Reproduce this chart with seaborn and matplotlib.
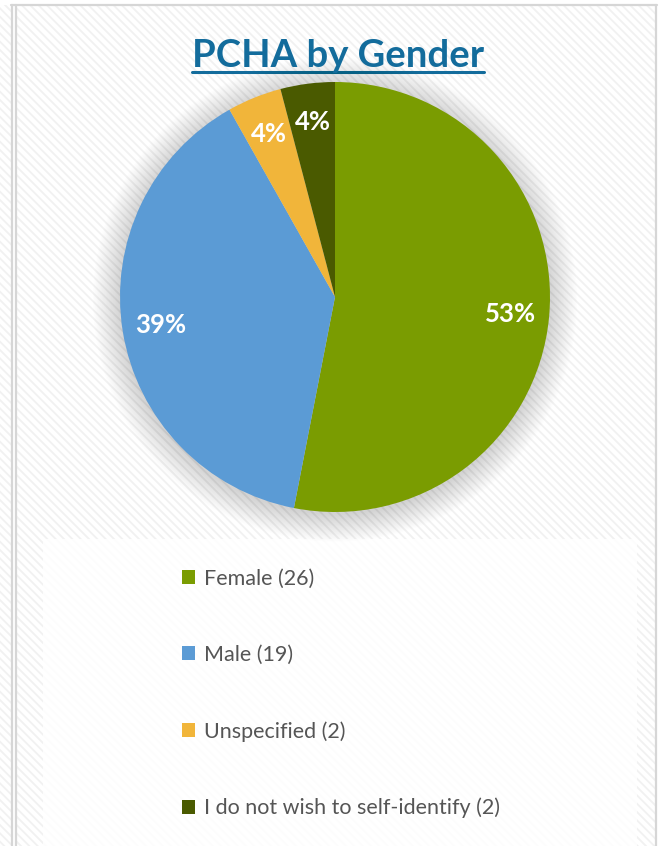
import matplotlib
matplotlib.use("Agg")
import matplotlib.pyplot as plt
import seaborn as sns
from matplotlib.patches import Rectangle, Circle
from matplotlib.lines import Line2D

# data
categories = ["Female", "Male", "Unspecified", "I do not wish to self-identify"]
counts = [26, 19, 2, 2]
colors = ["#7a9c01", "#5b9bd5", "#f1b53a", "#4a5a00"]
title = "PCHA by Gender"

sns.set_theme(style="white")
plt.rcParams["font.family"] = ["Lato", "DejaVu Sans"]
plt.rcParams["hatch.linewidth"] = 1.3

W, H = 662, 846
fig = plt.figure(figsize=(W / 100, H / 100), dpi=100)

# background: hatched panel with grey frame
bg = fig.add_axes([0, 0, 1, 1])
bg.set_xlim(0, W)
bg.set_ylim(H, 0)
bg.axis("off")
bg.add_patch(Rectangle((0, 0), W, H, facecolor="white", edgecolor="#f1f1f1",
                       hatch="\\\\\\\\", linewidth=0))
bg.add_patch(Rectangle((0, 0), W, 5, facecolor="white", linewidth=0))
bg.add_patch(Rectangle((657, 0), 5, H, facecolor="white", linewidth=0))
bg.add_patch(Rectangle((13, 6), 2, H, facecolor="white", linewidth=0))
frame_kw = dict(color="#d6d6d6", linewidth=1.6)
bg.add_line(Line2D([11, 657], [5.5, 5.5], **frame_kw))
bg.add_line(Line2D([12, 12], [5.5, H], **frame_kw))
bg.add_line(Line2D([16, 16], [5.5, H], **frame_kw))
bg.add_line(Line2D([655.5, 655.5], [5.5, H], **frame_kw))
# legend panel
bg.add_patch(Rectangle((43, 539), 594, H - 539, facecolor="white", alpha=0.85, linewidth=0))

# pie
cx, cy, R = 335, 297, 215
ext = 1.2
ax = fig.add_axes([(cx - R * ext) / W, 1 - (cy + R * ext) / H, 2 * R * ext / W, 2 * R * ext / H])

# soft shadow behind the pie
for i in range(22):
    ax.add_patch(Circle((0.0, -0.012), 1.0 + 0.006 * i, facecolor="black",
                        alpha=0.0065, linewidth=0, zorder=0))

wedges, _, autotexts = ax.pie(
    counts,
    colors=colors,
    startangle=90,
    counterclock=False,
    autopct="%1.0f%%",
    pctdistance=0.82,
    wedgeprops={"linewidth": 0},
    textprops={"color": "white", "fontsize": 18.5, "fontweight": "bold"},
)
ax.set_xlim(-ext, ext)
ax.set_ylim(-ext, ext)
ax.axis("off")

# title with underline
t = fig.text(338 / W, 1 - 67 / H, title, ha="center", va="baseline",
             fontsize=27.5, fontweight="bold", color="#136c9c")
fig.canvas.draw()
bb = t.get_window_extent()
bg.add_line(Line2D([bb.x0, bb.x1], [72.5, 72.5], color="#136c9c", linewidth=2.2))

# legend
labels = [f"{c} ({n})" for c, n in zip(categories, counts)]
fig.legend(
    wedges, labels,
    loc="upper left",
    bbox_to_anchor=(182 / W, 1 - 569 / H),
    frameon=False,
    fontsize=15.5,
    labelcolor="#555555",
    handlelength=0.62,
    handleheight=0.62,
    handletextpad=0.4,
    labelspacing=2.6,
    borderpad=0,
    borderaxespad=0,
)

fig.savefig("out.png", dpi=100)
plt.close(fig)
